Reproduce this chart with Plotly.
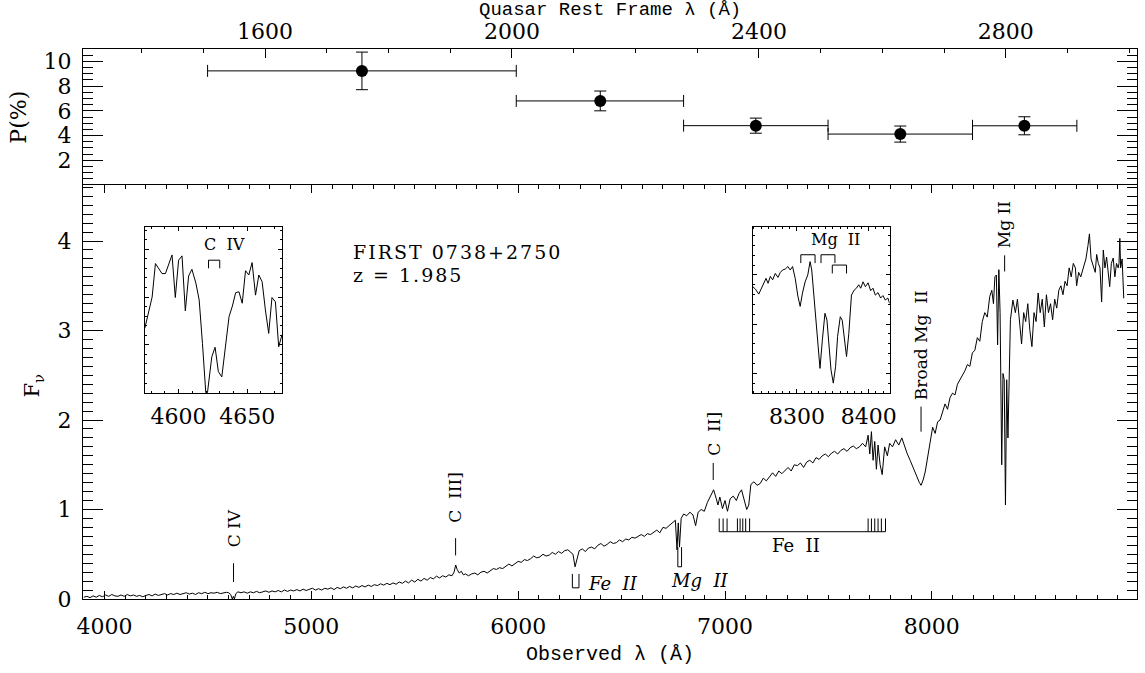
import plotly.graph_objects as go

Z = 1.985
SERIF = "DejaVu Serif"
MONO = "Liberation Mono"

# ---------------- main spectrum (observed wavelength in Angstrom, F_nu) ----------------
spec_wave = [3900, 3915, 3930, 3945, 3960, 3975, 3990, 4005, 4020, 4035, 4050, 4065, 4080, 4095, 4110,
             4125, 4140, 4155, 4170, 4185, 4200, 4215, 4230, 4245, 4260, 4275, 4290, 4305, 4320, 4335,
             4350, 4365, 4380, 4395, 4410, 4425, 4440, 4455, 4470, 4485, 4500, 4515, 4530, 4545, 4560,
             4575, 4590, 4600, 4610, 4618, 4623, 4628, 4635, 4645, 4660, 4675, 4690, 4705, 4720, 4735,
             4750, 4765, 4780, 4795, 4810, 4825, 4840, 4855, 4870, 4885, 4900, 4915, 4930, 4945, 4960,
             4975, 4990, 5005, 5020, 5035, 5050, 5065, 5080, 5095, 5110, 5125, 5140, 5155, 5170, 5185,
             5200, 5215, 5230, 5245, 5260, 5275, 5290, 5305, 5320, 5335, 5350, 5365, 5380, 5395, 5410,
             5425, 5440, 5455, 5470, 5485, 5500, 5515, 5530, 5545, 5560, 5575, 5590, 5605, 5620, 5635,
             5650, 5665, 5680, 5690, 5698, 5705, 5715, 5725, 5735, 5745, 5760, 5775, 5790, 5805, 5820,
             5835, 5850, 5865, 5880, 5895, 5910, 5925, 5940, 5955, 5970, 5985, 6000, 6015, 6030, 6045,
             6060, 6075, 6090, 6105, 6120, 6135, 6150, 6165, 6180, 6195, 6210, 6225, 6240, 6255, 6265,
             6275, 6285, 6295, 6310, 6325, 6340, 6355, 6370, 6385, 6400, 6415, 6430, 6445, 6460, 6475,
             6490, 6505, 6520, 6535, 6550, 6565, 6580, 6595, 6610, 6625, 6640, 6655, 6670, 6685, 6700,
             6715, 6730, 6745, 6760, 6768, 6774, 6780, 6788, 6800, 6815, 6830, 6845, 6858, 6870, 6885,
             6900, 6915, 6930, 6945, 6958, 6966, 6975, 6988, 7000, 7012, 7025, 7040, 7055, 7068, 7080,
             7092, 7105, 7115, 7125, 7140, 7155, 7170, 7185, 7200, 7215, 7230, 7245, 7260, 7275, 7290,
             7305, 7320, 7335, 7350, 7365, 7380, 7395, 7410, 7425, 7440, 7455, 7470, 7485, 7500, 7515,
             7530, 7545, 7560, 7575, 7590, 7605, 7620, 7635, 7650, 7665, 7680, 7692, 7700, 7708, 7716,
             7724, 7732, 7740, 7750, 7760, 7772, 7785, 7796, 7810, 7825, 7840, 7855, 7868, 7880, 7895,
             7908, 7920, 7932, 7940, 7948, 7958, 7968, 7980, 7992, 8004, 8016, 8028, 8040, 8052, 8064,
             8076, 8088, 8100, 8112, 8124, 8136, 8148, 8160, 8172, 8184, 8196, 8208, 8220, 8232, 8244,
             8256, 8268, 8280, 8290, 8298, 8305, 8312, 8318, 8324, 8330, 8338, 8344, 8350, 8356, 8362,
             8368, 8374, 8380, 8392, 8404, 8414, 8424, 8434, 8444, 8454, 8464, 8474, 8484, 8494, 8504,
             8514, 8524, 8534, 8544, 8554, 8564, 8574, 8584, 8594, 8604, 8614, 8624, 8634, 8644, 8654,
             8664, 8674, 8684, 8694, 8700, 8710, 8720, 8733, 8745, 8755, 8762, 8770, 8781, 8790, 8797,
             8805, 8813, 8821, 8829, 8837, 8845, 8853, 8860, 8868, 8877, 8885, 8893, 8901, 8905, 8909,
             8913, 8920, 8928]
spec_flux = [0.02, 0.03, 0.015, 0.035, 0.02, 0.04, 0.025, 0.045, 0.03, 0.05, 0.035, 0.03, 0.045, 0.03, 0.05,
             0.035, 0.045, 0.03, 0.04, 0.025, 0.04, 0.05, 0.035, 0.055, 0.04, 0.05, 0.06, 0.045, 0.06, 0.05,
             0.065, 0.05, 0.06, 0.07, 0.055, 0.065, 0.05, 0.07, 0.06, 0.075, 0.06, 0.07, 0.065, 0.075, 0.06,
             0.07, 0.075, 0.07, 0.05, 0.0, 0.03, 0.0, 0.06, 0.08, 0.07, 0.08, 0.065, 0.08, 0.07, 0.085,
             0.07, 0.08, 0.09, 0.075, 0.09, 0.08, 0.095, 0.08, 0.1, 0.085, 0.1, 0.09, 0.105, 0.09, 0.11,
             0.095, 0.105, 0.12, 0.1, 0.115, 0.1, 0.12, 0.11, 0.125, 0.105, 0.13, 0.115, 0.135, 0.12, 0.14,
             0.125, 0.145, 0.13, 0.15, 0.135, 0.155, 0.14, 0.16, 0.15, 0.17, 0.155, 0.175, 0.16, 0.18, 0.165,
             0.19, 0.175, 0.2, 0.18, 0.21, 0.19, 0.22, 0.2, 0.23, 0.21, 0.24, 0.225, 0.255, 0.235, 0.26,
             0.245, 0.27, 0.26, 0.3, 0.38, 0.33, 0.29, 0.31, 0.27, 0.28, 0.26, 0.28, 0.29, 0.27, 0.3,
             0.31, 0.29, 0.32, 0.34, 0.33, 0.35, 0.34, 0.37, 0.39, 0.37, 0.4, 0.42, 0.41, 0.44, 0.43,
             0.45, 0.48, 0.46, 0.47, 0.5, 0.48, 0.49, 0.52, 0.5, 0.53, 0.51, 0.54, 0.55, 0.52, 0.5,
             0.36, 0.46, 0.54, 0.56, 0.53, 0.57, 0.58, 0.56, 0.6, 0.62, 0.59, 0.61, 0.64, 0.62, 0.63,
             0.66, 0.64, 0.67, 0.66, 0.69, 0.68, 0.7, 0.72, 0.7, 0.73, 0.72, 0.75, 0.77, 0.74, 0.8,
             0.79, 0.82, 0.84, 0.88, 0.55, 0.85, 0.58, 0.9, 0.95, 0.93, 0.97, 0.94, 0.82, 0.97, 1.0,
             0.98, 1.08, 1.15, 1.22, 1.12, 1.05, 1.14, 1.01, 1.1, 0.98, 1.12, 1.15, 1.1, 1.18, 1.22,
             1.12, 1.0, 1.05, 1.28, 1.31, 1.27, 1.29, 1.35, 1.32, 1.36, 1.41, 1.37, 1.43, 1.4, 1.44,
             1.47, 1.43, 1.5, 1.49, 1.52, 1.47, 1.53, 1.55, 1.52, 1.58, 1.56, 1.6, 1.62, 1.59, 1.63,
             1.65, 1.62, 1.66, 1.68, 1.65, 1.69, 1.71, 1.68, 1.7, 1.74, 1.7, 1.83, 1.62, 1.87, 1.55,
             1.76, 1.45, 1.72, 1.5, 1.39, 1.7, 1.6, 1.74, 1.7, 1.78, 1.72, 1.8, 1.7, 1.63, 1.55,
             1.48, 1.4, 1.33, 1.3, 1.27, 1.33, 1.42, 1.6, 1.75, 1.92, 1.85, 1.98, 2.0, 2.08, 2.18,
             2.12, 2.25, 2.3, 2.28, 2.4, 2.45, 2.5, 2.55, 2.62, 2.6, 2.75, 2.78, 2.92, 2.88, 3.1,
             3.2, 3.15, 3.38, 3.45, 3.3, 3.6, 3.62, 2.84, 3.68, 3.2, 1.5, 2.52, 2.45, 1.05, 2.45,
             1.8, 2.5, 3.12, 3.34, 3.2, 3.35, 3.1, 2.85, 3.2, 3.1, 3.3, 3.0, 2.82, 3.2, 3.1,
             3.42, 3.2, 3.35, 3.04, 3.4, 3.2, 3.3, 3.12, 3.35, 3.25, 3.45, 3.5, 3.4, 3.55, 3.5,
             3.7, 3.6, 3.75, 3.7, 3.5, 3.65, 3.6, 3.7, 3.8, 3.95, 4.08, 3.8, 3.71, 3.65, 3.85,
             3.75, 3.7, 3.32, 3.9, 3.7, 3.82, 3.6, 3.49, 3.75, 3.81, 3.6, 3.75, 3.7, 3.75, 4.03,
             3.7, 3.8, 3.36]

# ---------------- C IV inset (observed wavelength, flux in inset units) ----------------
civ_wave = [4575.4, 4577.6, 4578.8, 4580.7, 4583.1, 4587.9, 4590.4, 4595.2, 4597.6, 4600.0, 4602.5, 4604.9,
            4607.3, 4609.7, 4612.6, 4615.0, 4617.4, 4620.3, 4621.3, 4624.2, 4626.6, 4629.0, 4631.5, 4634.3,
            4636.8, 4639.2, 4641.6, 4644.0, 4646.4, 4648.8, 4651.2, 4653.6, 4656.1, 4658.5, 4660.9, 4663.3,
            4665.7, 4668.1, 4670.6, 4673.0, 4675.4]
civ_flux = [1.35, 1.62, 1.83, 2.0, 2.7, 2.49, 2.49, 2.88, 1.99, 2.77, 2.86, 1.71,
            2.44, 2.58, 2.29, 1.94, 1.03, -0.2, 0.06, 0.75, 0.95, 0.44, 0.33, 0.96,
            1.59, 1.81, 2.09, 2.11, 1.87, 2.55, 2.46, 2.72, 2.04, 2.46, 2.32, 1.73,
            1.24, 1.99, 1.9, 0.96, 1.21]

# ---------------- Mg II inset ----------------
mgii_wave = [8238.6, 8242.3, 8246.9, 8250.6, 8253.8, 8257.0, 8259.8, 8263.0, 8266.2, 8269.9, 8273.6, 8276.8,
             8280.1, 8283.8, 8287.4, 8290.7, 8293.9, 8297.6, 8301.3, 8304.5, 8307.7, 8311.4, 8315.1, 8318.3,
             8320.6, 8324.3, 8328.0, 8332.1, 8335.4, 8339.0, 8341.8, 8344.6, 8347.4, 8350.6, 8353.8, 8356.6,
             8360.3, 8363.0, 8365.8, 8369.0, 8372.2, 8375.9, 8379.6, 8382.8, 8386.0, 8388.8, 8392.0, 8395.3,
             8399.0, 8402.6, 8405.8, 8409.1, 8412.8, 8416.5, 8419.7, 8422.9, 8426.6, 8429.0]
mgii_flux = [2.76, 2.71, 2.61, 2.73, 2.80, 2.93, 2.83, 2.97, 2.90, 3.03, 2.95, 3.05,
             3.10, 3.12, 3.17, 3.10, 3.17, 2.93, 2.57, 2.36, 2.63, 2.86, 3.00, 3.27,
             3.10, 2.42, 1.81, 1.10, 1.68, 2.22, 2.08, 1.54, 1.07, 0.80, 1.14, 1.75,
             2.15, 2.08, 1.75, 1.34, 1.81, 2.59, 2.69, 2.73, 2.80, 2.73, 2.86, 2.76,
             2.84, 2.68, 2.73, 2.59, 2.64, 2.53, 2.58, 2.49, 2.53, 2.42]

# ---------------- polarization (rest-frame bins) ----------------
pol_rest_wave = [1757, 2143, 2395, 2629, 2830]
pol_bin_lo = [1507, 2007, 2278, 2512, 2746]
pol_bin_hi = [2007, 2278, 2512, 2746, 2915]
pol_percent = [9.23, 6.8, 4.8, 4.12, 4.79]
pol_err = [1.52, 0.8, 0.61, 0.65, 0.73]

# ---------------- line identifications ----------------
emis_names = ["C IV", "C III]", "C II]", "Broad Mg II", "Mg II"]
emis_rest = [1549.0, 1908.7, 2326.0, 2662.6, 2798.0]
feii_ticks = [6972, 6991, 7010, 7060, 7073, 7086, 7100, 7119, 7692, 7708, 7724, 7740, 7756, 7776]

X_RANGE = [3896, 8992]
Y_RANGE = [0, 4.626]

fig = go.Figure()

fig.add_trace(go.Scatter(x=spec_wave, y=spec_flux, mode="lines", line=dict(color="black", width=1),
                         xaxis="x", yaxis="y", showlegend=False, hoverinfo="skip"))
fig.add_trace(go.Scatter(x=civ_wave, y=civ_flux, mode="lines", line=dict(color="black", width=1),
                         xaxis="x4", yaxis="y4", showlegend=False, hoverinfo="skip"))
fig.add_trace(go.Scatter(x=mgii_wave, y=mgii_flux, mode="lines", line=dict(color="black", width=1),
                         xaxis="x5", yaxis="y5", showlegend=False, hoverinfo="skip"))
fig.add_trace(go.Scatter(
    x=pol_rest_wave, y=pol_percent, mode="markers",
    marker=dict(color="black", size=12),
    error_x=dict(type="data", symmetric=False,
                 array=[h - c for h, c in zip(pol_bin_hi, pol_rest_wave)],
                 arrayminus=[c - l for c, l in zip(pol_rest_wave, pol_bin_lo)],
                 color="black", thickness=1, width=6),
    error_y=dict(type="data", array=pol_err, color="black", thickness=1, width=6),
    xaxis="x3", yaxis="y2", showlegend=False, hoverinfo="skip"))

tickfont = dict(family=SERIF, size=22, color="black")


def frame_axis(**kw):
    d = dict(showline=True, linecolor="black", linewidth=1, showgrid=False, zeroline=False,
             ticks="inside", tickcolor="black", tickwidth=1, tickfont=tickfont)
    d.update(kw)
    return d


main_top = 0.7527
fig.update_layout(
    width=1145, height=673,
    margin=dict(l=83, r=1, t=49, b=74),
    paper_bgcolor="white", plot_bgcolor="white",
    showlegend=False,
    xaxis=frame_axis(domain=[0, 1], anchor="y", range=X_RANGE, tick0=0, dtick=1000, ticklen=8,
                     mirror="ticks", ticklabelstandoff=8,
                     minor=dict(dtick=100, ticklen=4, ticks="inside", tickcolor="black")),
    yaxis=frame_axis(domain=[0, main_top], anchor="x", range=Y_RANGE, tick0=0, dtick=1, ticklen=20,
                     mirror="ticks", ticklabelstandoff=6,
                     minor=dict(dtick=0.1, ticklen=10, ticks="inside", tickcolor="black")),
    xaxis2=frame_axis(domain=[0, 1], anchor="y2", range=X_RANGE, tick0=0, dtick=1000, ticklen=9,
                      showticklabels=False, mirror=False,
                      minor=dict(dtick=100, ticklen=4, ticks="inside", tickcolor="black")),
    xaxis3=frame_axis(overlaying="x2", side="top", anchor="y2",
                      range=[X_RANGE[0] / (1 + Z), X_RANGE[1] / (1 + Z)],
                      tick0=0, dtick=400, ticklen=9, ticklabelstandoff=0,
                      minor=dict(dtick=100, ticklen=4, ticks="inside", tickcolor="black")),
    yaxis2=frame_axis(domain=[main_top, 1], anchor="x2", range=[0, 11], tickmode="array",
                      tickvals=[2, 4, 6, 8, 10], ticklen=20, mirror="ticks", ticklabelstandoff=6,
                      minor=dict(dtick=0.5, ticklen=10, ticks="inside", tickcolor="black")),
    xaxis4=frame_axis(domain=[0.0587, 0.1888], anchor="y4", range=[4575.4, 4675.4], tick0=0, dtick=50,
                      ticklen=4, mirror="ticks", ticklabelstandoff=4,
                      minor=dict(dtick=10, ticklen=2, ticks="inside", tickcolor="black")),
    yaxis4=frame_axis(domain=[0.3751, 0.6769], anchor="x4", range=[0, 3.47], dtick=1, ticklen=4,
                      mirror="ticks", showticklabels=False,
                      minor=dict(dtick=0.2, ticklen=2, ticks="inside", tickcolor="black")),
    xaxis5=frame_axis(domain=[0.6355, 0.7653], anchor="y5", range=[8238.6, 8429.0], tick0=0, dtick=100,
                      ticklen=4, mirror="ticks", ticklabelstandoff=4,
                      minor=dict(dtick=10, ticklen=2, ticks="inside", tickcolor="black")),
    yaxis5=frame_axis(domain=[0.3751, 0.6769], anchor="x5", range=[0.606, 3.98], dtick=1, ticklen=4,
                      mirror="ticks", showticklabels=False,
                      minor=dict(dtick=0.2, ticklen=2, ticks="inside", tickcolor="black")),
)

shapes = []
annots = []
LINE = dict(color="black", width=1)
NB = "\u00a0"


def seg(xref, yref, x0, y0, x1, y1):
    shapes.append(dict(type="line", xref=xref, yref=yref, x0=x0, y0=y0, x1=x1, y1=y1, line=LINE))


def path(xref, yref, pts):
    p = "M " + " L ".join(f"{a},{b}" for a, b in pts)
    shapes.append(dict(type="path", xref=xref, yref=yref, path=p, line=LINE))


def text(s, x, y, xref="x", yref="y", size=16, angle=0, xanchor="center", yanchor="middle",
         family=SERIF):
    annots.append(dict(text=s, x=x, y=y, xref=xref, yref=yref, showarrow=False, textangle=angle,
                       xanchor=xanchor, yanchor=yanchor, font=dict(family=family, size=size, color="black")))


# emission-line markers (short tick + rotated label)
tick_lo = [0.19, 0.487, 1.33, 1.87, 3.66]
tick_hi = [0.40, 0.68, 1.52, 2.15, 3.84]
lab_bot = [0.55, 0.83, 1.58, 2.2, 3.9]
lab_txt = ["C" + NB + "IV", "C" + NB * 2 + "III]", "C" + NB * 2 + "II]",
           "Broad" + NB + "Mg" + NB * 2 + "II", "Mg" + NB + "II"]
for name, rest, lo, hi, lb, t in zip(emis_names, emis_rest, tick_lo, tick_hi, lab_bot, lab_txt):
    w = rest * (1 + Z)
    seg("x", "y", w, lo, w, hi)
    text(t, w, lb, angle=-90, yanchor="bottom", size=17)

# intervening absorbers
path("x", "y", [(6262, 0.28), (6262, 0.125), (6294, 0.125), (6294, 0.28)])
text("<i>Fe" + NB * 2 + "II</i>", 6330, 0.17, size=18, xanchor="left")
path("x", "y", [(6772, 0.58), (6772, 0.36), (6790, 0.36), (6790, 0.58)])
text("<i>Mg" + NB * 2 + "II</i>", 6880, 0.21, size=18)

# Fe II multiplet bracket
seg("x", "y", feii_ticks[0], 0.752, feii_ticks[-1], 0.752)
for w in feii_ticks:
    seg("x", "y", w, 0.752, w, 0.90)
text("Fe" + NB * 2 + "II", 7345, 0.60, size=18)

# object label
text('<span style="letter-spacing:2px">FIRST 0738+2750</span>', 5194, 3.88, size=19, xanchor="left")
text('<span style="letter-spacing:2px">z' + NB + '=' + NB + '1.985</span>', 5194, 3.62, size=19,
     xanchor="left")

# inset brackets
path("x4", "y4", [(4621.8, 2.6), (4621.8, 2.77), (4630.0, 2.77), (4630.0, 2.6)])
text("C" + NB * 2 + "IV", 4633.6, 3.09, xref="x4", yref="y4", size=16)
path("x5", "y5", [(8305.4, 3.24), (8305.4, 3.41), (8325.2, 3.41), (8325.2, 3.24)])
path("x5", "y5", [(8333.5, 3.24), (8333.5, 3.41), (8352.9, 3.41), (8352.9, 3.24)])
path("x5", "y5", [(8349.2, 3.03), (8349.2, 3.20), (8369.0, 3.20), (8369.0, 3.03)])
text("Mg" + NB * 2 + "II", 8353.3, 3.71, xref="x5", yref="y5", size=16)

# axis titles
text("Quasar Rest Frame \u03bb (\u00c5)", 0.5, (599 - 10) / 550, xref="paper", yref="paper", size=19,
     family=MONO)
text("Observed \u03bb (\u00c5)", 0.5, -0.1, xref="paper", yref="paper", size=20, family=MONO)
text("P(%)", -0.062, (599 - 117) / 550, xref="paper", yref="paper", size=22, angle=-90)
text("F<sub>\u03bd</sub>", -0.047, (599 - 385) / 550, xref="paper", yref="paper", size=21, angle=-90)

fig.update_layout(shapes=shapes, annotations=annots)
fig.write_html("out.html")
